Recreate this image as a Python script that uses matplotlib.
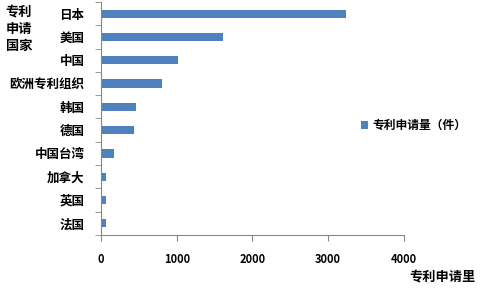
import matplotlib
matplotlib.use("Agg")
import matplotlib.pyplot as plt
import numpy as np

plt.rcParams['font.family'] = ['Noto Sans CJK SC', 'DejaVu Sans']

countries = ["日本", "美国", "中国", "欧洲专利组织", "韩国", "德国", "中国台湾", "加拿大", "英国", "法国"]
counts = [3234, 1611, 1016, 805, 462, 436, 172, 66, 66, 66]
xticks = [0, 1000, 2000, 3000, 4000]

fig = plt.figure(figsize=(4.86, 2.94), dpi=100)
ax = fig.add_axes([0.208, 0.201, 0.623, 0.792])

y = np.arange(len(countries))
ax.barh(y, counts, height=0.36, color="#4F81BD", label="专利申请量（件）")
ax.set_ylim(len(countries) - 0.5, -0.5)
ax.set_xlim(0, 4000)
ax.set_xticks(xticks)
ax.set_xticklabels([str(t) for t in xticks], fontsize=8, fontweight="bold")

ax.set_yticks(y)
ax.set_yticklabels(countries, fontsize=9, fontweight="bold")
ax.set_yticks(np.arange(len(countries) + 1) - 0.5, minor=True)
ax.tick_params(axis="y", which="major", length=0, pad=12)
ax.tick_params(axis="y", which="minor", length=4, color="#888888", direction="out")
ax.tick_params(axis="x", length=4, color="#888888", pad=9)

for s in ["top", "right"]:
    ax.spines[s].set_visible(False)
ax.spines["left"].set_color("#888888")
ax.spines["bottom"].set_color("#888888")

fig.text(0.843, 0.045, "专利申请里", fontsize=9.5, fontweight="bold")
fig.text(0.012, 0.83, "专利\n申请\n国家", fontsize=9.5, fontweight="bold", linespacing=1.3)

fig.legend(loc="center left", bbox_to_anchor=(0.742, 0.573), frameon=False,
           prop={"size": 8.5, "weight": "bold"}, handlelength=0.6, handleheight=0.6,
           handletextpad=0.4, borderpad=0, borderaxespad=0)

fig.savefig("out.png", dpi=100, facecolor="white")
